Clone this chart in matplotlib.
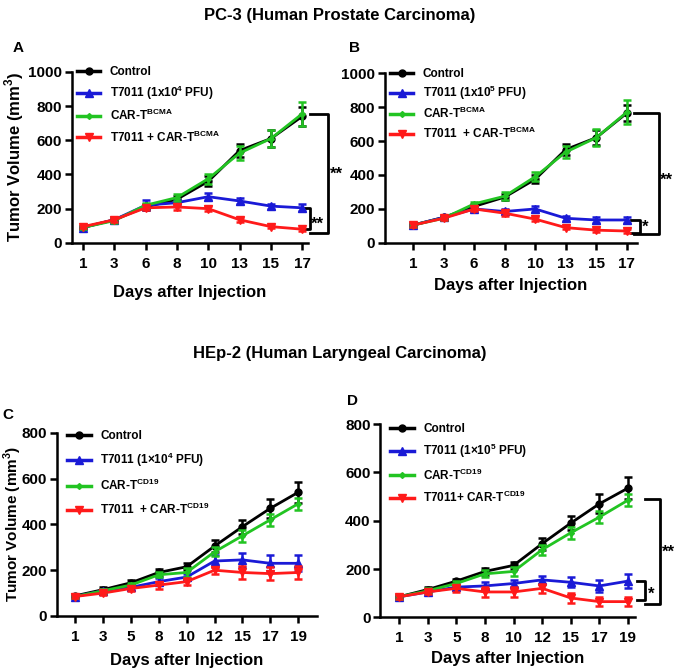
import matplotlib
matplotlib.use("Agg")
import matplotlib.pyplot as plt
import numpy as np

plt.rcParams['font.family'] = ['Liberation Sans', 'DejaVu Sans']
plt.rcParams['font.weight'] = 'bold'
plt.rcParams['mathtext.fontset'] = 'custom'
plt.rcParams['mathtext.bf'] = 'Liberation Sans:bold'
plt.rcParams['mathtext.rm'] = 'Liberation Sans:bold'

# ---- data ----
days_pc3 = ['1', '3', '6', '8', '10', '13', '15', '17']
days_hep = ['1', '3', '5', '8', '10', '12', '15', '17', '19']

a_ctrl = [90, 135, 210, 255, 360, 540, 610, 740]
a_virus = [90, 135, 220, 235, 270, 245, 215, 205]
a_cart = [90, 130, 220, 265, 375, 525, 610, 755]
a_combo = [95, 135, 205, 210, 200, 135, 95, 80]
a_ctrl_err = [10, 15, 20, 20, 30, 40, 50, 55]
a_virus_err = [10, 10, 30, 15, 20, 15, 15, 20]
a_cart_err = [10, 15, 15, 20, 30, 40, 50, 70]
a_combo_err = [10, 10, 15, 15, 15, 10, 10, 10]

b_ctrl = [105, 150, 215, 270, 375, 550, 620, 765]
b_virus = [105, 150, 200, 185, 200, 145, 135, 135]
b_cart = [105, 145, 230, 275, 390, 535, 620, 770]
b_combo = [105, 145, 200, 175, 140, 90, 75, 70]
b_ctrl_err = [10, 10, 15, 20, 25, 35, 45, 45]
b_virus_err = [10, 10, 15, 15, 20, 15, 20, 20]
b_cart_err = [10, 10, 10, 25, 25, 35, 50, 70]
b_combo_err = [10, 10, 15, 15, 10, 10, 10, 10]

c_ctrl = [88, 115, 145, 190, 215, 305, 390, 470, 540]
c_virus = [85, 110, 125, 150, 170, 240, 245, 230, 230]
c_cart = [85, 110, 135, 180, 190, 280, 350, 420, 490]
c_combo = [85, 100, 120, 135, 150, 200, 190, 185, 190]
c_ctrl_err = [10, 10, 10, 15, 15, 25, 30, 40, 45]
c_virus_err = [8, 8, 10, 15, 15, 25, 30, 35, 35]
c_cart_err = [8, 10, 10, 10, 20, 20, 25, 25, 25]
c_combo_err = [8, 8, 10, 15, 15, 15, 30, 30, 30]

d_ctrl = [85, 115, 150, 190, 215, 305, 390, 470, 535]
d_virus = [85, 105, 125, 130, 140, 155, 145, 130, 150]
d_cart = [85, 110, 140, 180, 190, 280, 350, 415, 485]
d_combo = [85, 105, 120, 105, 105, 120, 80, 65, 65]
d_ctrl_err = [8, 10, 10, 15, 15, 25, 30, 40, 45]
d_virus_err = [8, 10, 10, 15, 15, 15, 20, 25, 30]
d_cart_err = [8, 10, 10, 15, 20, 20, 25, 25, 25]
d_combo_err = [8, 10, 15, 20, 20, 20, 20, 20, 20]

colors = ['black', '#1a1ad6', '#22c422', '#ff1a1a']
markers = ['o', '^', 'D', 'v']
msizes = [5, 5.5, 3, 6]

fig = plt.figure(figsize=(6.79, 6.71), dpi=100)


def panel(rect, days, series, errs, labels, ymax, xlim, letter, letter_xy,
          xl_y, yl_x=None, yl_size=12, leg_anchor=(0.0, 1.05), leg_space=0.55):
    ax = fig.add_axes(rect)
    x = np.arange(len(days))
    for i, (y, e) in enumerate(zip(series, errs)):
        ax.errorbar(x, y, yerr=e, color=colors[i], marker=markers[i],
                    markersize=msizes[i], lw=2, elinewidth=1.8, capsize=3,
                    capthick=1.8, clip_on=False, zorder=3 + i)
    ax.set_xticks(x)
    ax.set_xticklabels(days)
    ax.set_xlim(*xlim)
    ax.set_ylim(0, ymax)
    ax.set_yticks(np.arange(0, ymax + 1, 200))
    for s in ['top', 'right']:
        ax.spines[s].set_visible(False)
    for s in ['left', 'bottom']:
        ax.spines[s].set_linewidth(1.8)
    ax.tick_params(width=1.8, length=5, labelsize=11)
    ax.tick_params(axis='y', pad=2)
    ax.tick_params(axis='x', pad=5)
    for t in ax.get_xticklabels() + ax.get_yticklabels():
        t.set_fontweight('bold')
    ax.set_xlabel('Days after Injection', fontsize=12, fontweight='bold')
    ax.xaxis.set_label_coords(0.5, xl_y)
    if yl_x is not None:
        ax.set_ylabel('Tumor Volume (mm$^{\\mathbf{3}}$)', fontsize=yl_size,
                      fontweight='bold')
        ax.yaxis.set_label_coords(yl_x, 0.5)
    leg_handles = [plt.Line2D([], [], color=colors[i], marker=markers[i],
                              markersize=msizes[i], lw=2.5) for i in range(4)]
    ax.legend(leg_handles, labels, loc='upper left', bbox_to_anchor=leg_anchor,
              frameon=False, handlelength=2.0, labelspacing=leg_space,
              prop={'weight': 'bold', 'size': 8.5}, borderaxespad=0)
    fig.text(letter_xy[0], letter_xy[1], letter, fontsize=11, fontweight='bold')
    return ax


def bracket(ax, x0, x1, y0, y1, label, lx, ly):
    ax.plot([x0, x1, x1, x0], [y0, y0, y1, y1], color='black', lw=2,
            clip_on=False)
    ax.text(lx, ly, label, fontsize=12, fontweight='bold', va='center',
            ha='left')


bcma = 'CAR-T$^{\\mathbf{BCMA}}$'
cd19 = 'CAR-T$^{\\mathbf{CD19}}$'

axA = panel([0.106, 0.638, 0.348, 0.255], days_pc3,
            [a_ctrl, a_virus, a_cart, a_combo],
            [a_ctrl_err, a_virus_err, a_cart_err, a_combo_err],
            ['Control', 'T7011 (1x10$^{\\mathbf{4}}$ PFU)', bcma,
             'T7011 + ' + bcma],
            1000, (-0.35, 7.19), 'A', (0.019, 0.923), xl_y=-0.245,
            yl_x=-0.195, leg_anchor=(0.0, 1.06), leg_space=0.5)
bracket(axA, 7.0, 7.25, 205, 80, '**', 7.28, 110)
bracket(axA, 7.25, 7.83, 755, 55, '**', 7.88, 400)

axB = panel([0.567, 0.638, 0.371, 0.253], days_pc3,
            [b_ctrl, b_virus, b_cart, b_combo],
            [b_ctrl_err, b_virus_err, b_cart_err, b_combo_err],
            ['Control', 'T7011 (1x10$^{\\mathbf{5}}$ PFU)', bcma,
             'T7011  + ' + bcma],
            1000, (-0.92, 7.33), 'B', (0.514, 0.923), xl_y=-0.205,
            leg_anchor=(0.0, 1.06), leg_space=0.35)
bracket(axB, 7.15, 7.42, 135, 60, '*', 7.5, 90)
bracket(axB, 7.25, 8.04, 765, 55, '**', 8.1, 370)

axC = panel([0.084, 0.082, 0.383, 0.273], days_hep,
            [c_ctrl, c_virus, c_cart, c_combo],
            [c_ctrl_err, c_virus_err, c_cart_err, c_combo_err],
            ['Control', 'T7011 (1\u00d710$^{\\mathbf{4}}$ PFU)', cd19,
             'T7011  + ' + cd19],
            800, (-0.65, 8.68), 'C', (0.004, 0.375), xl_y=-0.2,
            yl_x=-0.128, yl_size=11, leg_anchor=(0.02, 1.04), leg_space=0.75)

axD = panel([0.560, 0.080, 0.375, 0.288], days_hep,
            [d_ctrl, d_virus, d_cart, d_combo],
            [d_ctrl_err, d_virus_err, d_cart_err, d_combo_err],
            ['Control', 'T7011 (1\u00d710$^{\\mathbf{5}}$ PFU)', cd19,
             'T7011+ ' + cd19],
            800, (-0.66, 8.24), 'D', (0.511, 0.396), xl_y=-0.172,
            leg_anchor=(0.02, 1.03), leg_space=0.6)
bracket(axD, 8.3, 8.6, 149, 70, '*', 8.7, 95)
bracket(axD, 8.6, 9.13, 489, 54, '**', 9.2, 270)

fig.text(0.5, 0.977, 'PC-3 (Human Prostate Carcinoma)', ha='center',
         va='center', fontsize=12, fontweight='bold')
fig.text(0.5, 0.473, 'HEp-2 (Human Laryngeal Carcinoma)', ha='center',
         va='center', fontsize=12, fontweight='bold')

fig.savefig('out.png', dpi=100)
